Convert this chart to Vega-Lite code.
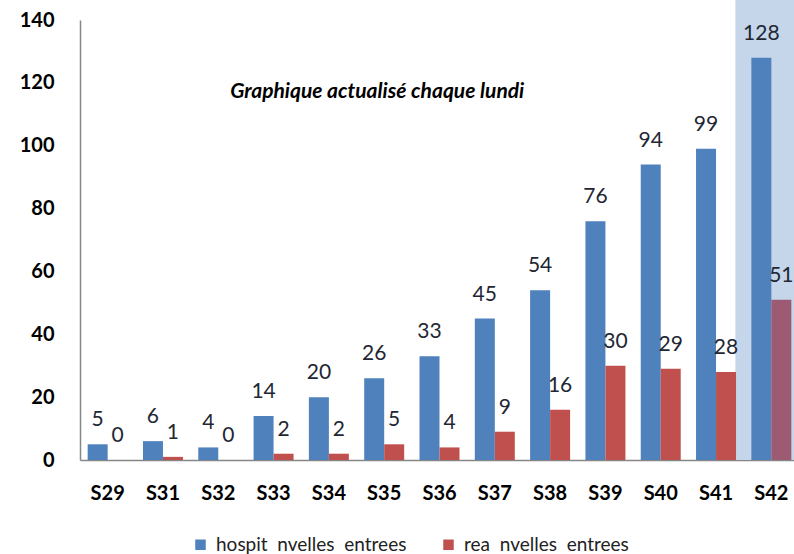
{
  "$schema": "https://vega.github.io/schema/vega-lite/v6.json",
  "autosize": {"type": "none"},
  "padding": {"left": 80, "top": 20, "right": 0, "bottom": 94},
  "width": 719,
  "height": 440,
  "background": "white",
  "config": {
    "view": {"stroke": null},
    "font": "Lato",
    "axis": {"grid": false, "ticks": false, "domainColor": "#868686", "domainWidth": 1.5, "labelColor": "#000000", "labelFont": "Lato", "labelFontWeight": "bold", "labelFontSize": 20, "title": null}
  },
  "datasets": {
    "counts": [
      {"week": "S29", "series": "hospit\u00a0 nvelles\u00a0 entrees", "value": 5},
      {"week": "S31", "series": "hospit\u00a0 nvelles\u00a0 entrees", "value": 6},
      {"week": "S32", "series": "hospit\u00a0 nvelles\u00a0 entrees", "value": 4},
      {"week": "S33", "series": "hospit\u00a0 nvelles\u00a0 entrees", "value": 14},
      {"week": "S34", "series": "hospit\u00a0 nvelles\u00a0 entrees", "value": 20},
      {"week": "S35", "series": "hospit\u00a0 nvelles\u00a0 entrees", "value": 26},
      {"week": "S36", "series": "hospit\u00a0 nvelles\u00a0 entrees", "value": 33},
      {"week": "S37", "series": "hospit\u00a0 nvelles\u00a0 entrees", "value": 45},
      {"week": "S38", "series": "hospit\u00a0 nvelles\u00a0 entrees", "value": 54},
      {"week": "S39", "series": "hospit\u00a0 nvelles\u00a0 entrees", "value": 76},
      {"week": "S40", "series": "hospit\u00a0 nvelles\u00a0 entrees", "value": 94},
      {"week": "S41", "series": "hospit\u00a0 nvelles\u00a0 entrees", "value": 99},
      {"week": "S42", "series": "hospit\u00a0 nvelles\u00a0 entrees", "value": 128},
      {"week": "S29", "series": "rea\u00a0 nvelles\u00a0 entrees", "value": 0},
      {"week": "S31", "series": "rea\u00a0 nvelles\u00a0 entrees", "value": 1},
      {"week": "S32", "series": "rea\u00a0 nvelles\u00a0 entrees", "value": 0},
      {"week": "S33", "series": "rea\u00a0 nvelles\u00a0 entrees", "value": 2},
      {"week": "S34", "series": "rea\u00a0 nvelles\u00a0 entrees", "value": 2},
      {"week": "S35", "series": "rea\u00a0 nvelles\u00a0 entrees", "value": 5},
      {"week": "S36", "series": "rea\u00a0 nvelles\u00a0 entrees", "value": 4},
      {"week": "S37", "series": "rea\u00a0 nvelles\u00a0 entrees", "value": 9},
      {"week": "S38", "series": "rea\u00a0 nvelles\u00a0 entrees", "value": 16},
      {"week": "S39", "series": "rea\u00a0 nvelles\u00a0 entrees", "value": 30},
      {"week": "S40", "series": "rea\u00a0 nvelles\u00a0 entrees", "value": 29},
      {"week": "S41", "series": "rea\u00a0 nvelles\u00a0 entrees", "value": 28},
      {"week": "S42", "series": "rea\u00a0 nvelles\u00a0 entrees", "value": 51}
    ],
    "highlight": [{"week": "S42"}]
  },
  "layer": [
    {
      "data": {"name": "highlight"},
      "mark": {"type": "bar", "color": "#c6d6ea", "width": {"band": 1.3}},
      "encoding": {
        "x": {"field": "week", "type": "nominal", "sort": null, "scale": {"domain": ["S29", "S31", "S32", "S33", "S34", "S35", "S36", "S37", "S38", "S39", "S40", "S41", "S42"], "paddingInner": 0, "paddingOuter": 0}, "axis": {"labelAngle": 0, "labelPadding": 23}},
        "y": {"datum": 146.5, "type": "quantitative"},
        "y2": {"datum": 0}
      }
    },
    {
      "data": {"name": "counts"},
      "mark": {"type": "bar"},
      "encoding": {
        "x": {"field": "week", "type": "nominal", "sort": null},
        "xOffset": {"field": "series", "type": "nominal", "scale": {"paddingOuter": 0.383, "paddingInner": 0}},
        "y": {"field": "value", "type": "quantitative", "scale": {"domain": [0, 140], "nice": false}, "axis": {"values": [0, 20, 40, 60, 80, 100, 120, 140], "labelPadding": 26}},
        "color": {
          "condition": {"test": "datum.week === 'S42' && indexof(datum.series, 'rea') === 0", "value": "#9c5b73"},
          "field": "series", "type": "nominal",
          "scale": {"domain": ["hospit\u00a0 nvelles\u00a0 entrees", "rea\u00a0 nvelles\u00a0 entrees"], "range": ["#4f81bd", "#c0504d"]},
          "legend": {"title": null, "orient": "none", "direction": "horizontal", "legendX": 111, "legendY": 515, "symbolType": "square", "symbolSize": 110, "symbolStrokeWidth": 0, "labelFontSize": 19, "labelFont": "Lato", "labelColor": "#222222", "labelLimit": 0, "columnPadding": 32, "labelOffset": 6}
        }
      }
    },
    {
      "data": {"name": "counts"},
      "mark": {"type": "text", "fontSize": 21, "color": "#1e2733", "baseline": "alphabetic", "dy": -18},
      "encoding": {
        "x": {"field": "week", "type": "nominal", "sort": null},
        "xOffset": {"field": "series", "type": "nominal"},
        "y": {"field": "value", "type": "quantitative"},
        "text": {"field": "value", "type": "quantitative"}
      }
    },
    {
      "data": {"values": [{"note": "Graphique actualisé chaque lundi"}]},
      "mark": {"type": "text", "fontSize": 21, "fontWeight": "bold", "fontStyle": "italic", "color": "#000000", "dx": -7, "baseline": "middle"},
      "encoding": {
        "x": {"datum": "S35", "type": "nominal"},
        "y": {"datum": 117, "type": "quantitative"},
        "text": {"field": "note", "type": "nominal"}
      }
    }
  ]
}
